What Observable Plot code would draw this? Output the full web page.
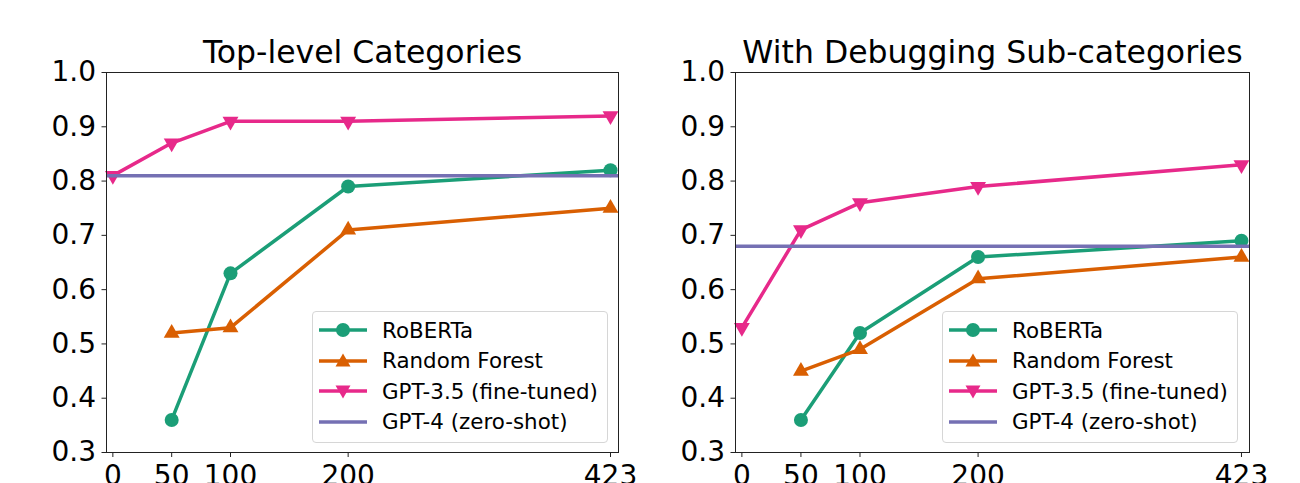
<!DOCTYPE html>
<html><head><meta charset="utf-8">
<script src="https://cdn.jsdelivr.net/npm/d3@7"></script>
<script src="https://cdn.jsdelivr.net/npm/@observablehq/plot@0.6"></script>
<style>
body{margin:0;background:#fff;overflow:hidden;font-family:"DejaVu Sans";}
#wrap{display:flex;width:1300px;height:483px;}
.panel{position:relative;width:650px;height:483px;overflow:hidden;}
.legend{position:absolute;box-sizing:border-box;border:1px solid #d6d6d6;border-radius:4px;background:rgba(255,255,255,0.8);}
.row{position:absolute;left:0;height:30px;display:flex;align-items:center;font-size:21.4px;color:#000;white-space:nowrap;font-family:"DejaVu Sans";}
.row svg{margin-left:6px;margin-right:15px;}
</style></head><body><div id="wrap"></div><script>
// ---- data ----
const sizes = [0, 50, 100, 200, 423];
const seriesNames = ["RoBERTa", "Random Forest", "GPT-3.5 (fine-tuned)", "GPT-4 (zero-shot)"];
const seriesColors = ["#1b9e77", "#d95f02", "#e7298a", "#7570b3"];
const panelTitles = ["Top-level Categories", "With Debugging Sub-categories"];

const robertaTop = [null, 0.36, 0.63, 0.79, 0.82];
const rfTop      = [null, 0.52, 0.53, 0.71, 0.75];
const gpt35Top   = [0.81, 0.87, 0.91, 0.91, 0.92];
const gpt4Top    = 0.81;

const robertaSub = [null, 0.36, 0.52, 0.66, 0.69];
const rfSub      = [null, 0.45, 0.49, 0.62, 0.66];
const gpt35Sub   = [0.53, 0.71, 0.76, 0.79, 0.83];
const gpt4Sub    = 0.68;

const xTicks = [0, 50, 100, 200, 423];
const yTicks = [0.3, 0.4, 0.5, 0.6, 0.7, 0.8, 0.9, 1.0];
const yTickLabels = ["0.3", "0.4", "0.5", "0.6", "0.7", "0.8", "0.9", "1.0"];

const panels = [
  {title: panelTitles[0], roberta: robertaTop, rf: rfTop, gpt35: gpt35Top, gpt4: gpt4Top, ml: 106, mr: 32, legendLeft: 312},
  {title: panelTitles[1], roberta: robertaSub, rf: rfSub, gpt35: gpt35Sub, gpt4: gpt4Sub, ml: 85, mr: 51, legendLeft: 292}
];

function rows(vals, name) {
  return sizes.map((s, i) => ({x: s, y: vals[i], name})).filter(d => d.y != null);
}

const wrap = document.getElementById("wrap");
const LW = 3.5;

panels.forEach(p => {
  const r = rows(p.roberta, seriesNames[0]);
  const f = rows(p.rf, seriesNames[1]);
  const g = rows(p.gpt35, seriesNames[2]);
  const chart = Plot.plot({
    width: 650, height: 483,
    marginLeft: p.ml, marginRight: p.mr, marginTop: 72, marginBottom: 31,
    style: {fontFamily: "DejaVu Sans", color: "#000", background: "#fff"},
    x: {domain: [-5.4, 429.8], axis: null},
    y: {domain: [0.3, 1.0], axis: null},
    marks: [
      Plot.line(r, {x: "x", y: "y", stroke: seriesColors[0], strokeWidth: LW}),
      Plot.dot(r, {x: "x", y: "y", fill: seriesColors[0], r: 7, symbol: "circle"}),
      Plot.line(f, {x: "x", y: "y", stroke: seriesColors[1], strokeWidth: LW}),
      Plot.dot(f, {x: "x", y: "y", fill: seriesColors[1], r: 5.9, symbol: "triangle"}),
      Plot.line(g, {x: "x", y: "y", stroke: seriesColors[2], strokeWidth: LW}),
      Plot.dot(g, {x: "x", y: "y", fill: seriesColors[2], r: 5.9, symbol: "triangle", rotate: 180}),
      Plot.ruleY([p.gpt4], {stroke: seriesColors[3], strokeWidth: LW}),
      Plot.frame({stroke: "#222", strokeWidth: 1}),
      Plot.axisY(yTicks, {tickSize: 4.5, tickPadding: 6, tickFormat: (d, i) => yTickLabels[i], fontSize: 28, label: null, stroke: "#222"}),
      Plot.axisX(xTicks, {tickSize: 5, tickPadding: 8, fontSize: 28, label: null, stroke: "#222"}),
      Plot.text([p.title], {text: d => d, frameAnchor: "top", dy: -20, fontSize: 31.5, lineAnchor: "middle", fill: "#000"})
    ]
  });
  const panel = document.createElement("div");
  panel.className = "panel";
  panel.appendChild(chart);

  // legend
  const lg = document.createElement("div");
  lg.className = "legend";
  lg.style.left = p.legendLeft + "px";
  lg.style.top = "310.5px";
  lg.style.width = "296px";
  lg.style.height = "132px";
  const markers = [
    `<circle cx="24" cy="15" r="7" fill="${seriesColors[0]}"/>`,
    `<path d="M24,7.5 L31.5,20.5 L16.5,20.5 Z" fill="${seriesColors[1]}"/>`,
    `<path d="M24,22.5 L31.5,9.5 L16.5,9.5 Z" fill="${seriesColors[2]}"/>`,
    ``
  ];
  seriesNames.forEach((name, i) => {
    const row = document.createElement("div");
    row.className = "row";
    row.style.top = (3.5 + i * 30.6) + "px";
    row.innerHTML = `<svg width="48" height="30"><line x1="0" x2="48" y1="15" y2="15" stroke="${seriesColors[i]}" stroke-width="${LW}"/>${markers[i]}</svg><span>${name}</span>`;
    lg.appendChild(row);
  });
  panel.appendChild(lg);
  wrap.appendChild(panel);
});
</script></body></html>
